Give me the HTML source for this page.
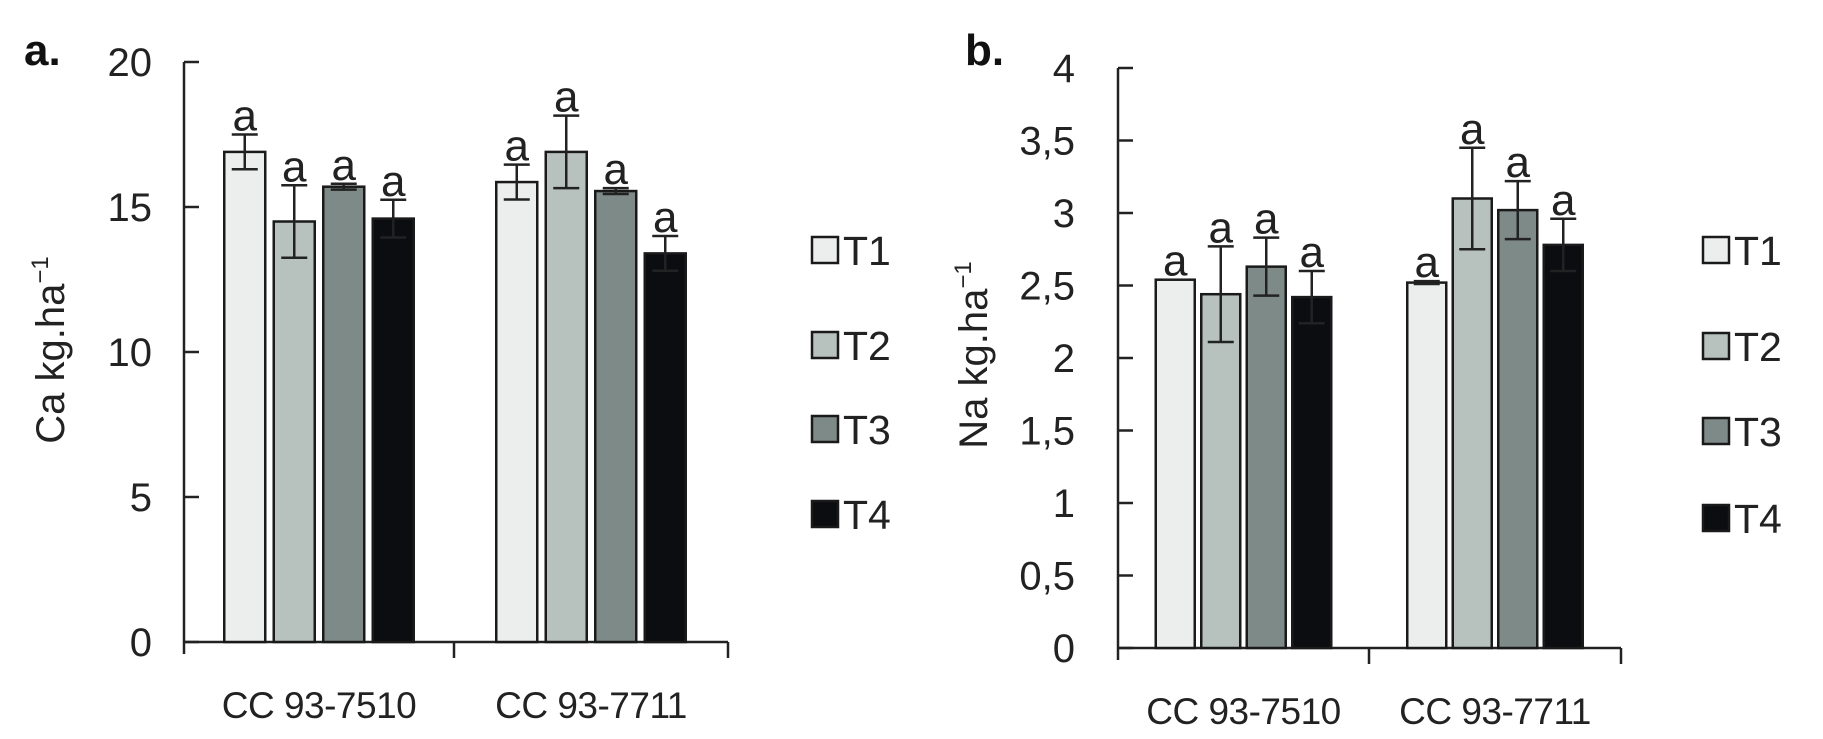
<!DOCTYPE html>
<html><head><meta charset="utf-8">
<style>
html,body{margin:0;padding:0;background:#fff;}
svg{display:block;font-family:"Liberation Sans",sans-serif;}
</style></head>
<body>
<svg id="fig" width="1823" height="739" viewBox="0 0 1823 739"></svg>
<script>
const categories = ["CC 93-7510", "CC 93-7711"];
const seriesNames = ["T1", "T2", "T3", "T4"];
const seriesColors = ["#eceeee", "#b7c2bf", "#7d8a87", "#0b0d10"];
// Chart a: Ca
const caValues = [[16.9, 15.86], [14.5, 16.9], [15.7, 15.55], [14.6, 13.4]];
const caErrors = [[0.6, 0.6], [1.25, 1.25], [0.1, 0.1], [0.65, 0.6]];
const caTicks = [0, 5, 10, 15, 20];
const caTickLabels = ["0", "5", "10", "15", "20"];
// Chart b: Na
const naValues = [[2.54, 2.52], [2.44, 3.1], [2.63, 3.02], [2.42, 2.78]];
const naErrors = [[0.0, 0.01], [0.33, 0.35], [0.2, 0.2], [0.18, 0.18]];
const naTicks = [0, 0.5, 1, 1.5, 2, 2.5, 3, 3.5, 4];
const naTickLabels = ["0", "0,5", "1", "1,5", "2", "2,5", "3", "3,5", "4"];

const NS = "http://www.w3.org/2000/svg";
const svg = document.getElementById("fig");
function mk(tag, attrs, parent, text) {
  const e = document.createElementNS(NS, tag);
  for (const k in attrs) e.setAttribute(k, attrs[k]);
  if (text !== undefined) e.textContent = text;
  (parent || svg).appendChild(e);
  return e;
}

function drawChart(cfg) {
  const g = mk("g", {});
  
  
  const y = v => cfg.y0 - (v - 0) / cfg.max * (cfg.y0 - cfg.yTop);
  const ax = mk("line", {x1: cfg.ax, y1: y(cfg.max), x2: cfg.ax, y2: cfg.y0 + 12, stroke: "#222", "stroke-width": 2.5}, g);
  
  
  cfg.ticks.forEach((t, i) => {
    const tk = mk("line", {x1: cfg.ax, y1: y(t), x2: cfg.ax + 15, y2: y(t), stroke: "#222", "stroke-width": 2.5}, g);
    
    
    const tl = mk("text", {x: cfg.tickRight, y: y(t) + 14, "text-anchor": "end", "font-size": 40, fill: "#222"}, g, cfg.tickLabels[i]);
    
    
  });
  const xa = mk("line", {x1: cfg.ax, y1: cfg.y0, x2: cfg.xEnd, y2: cfg.y0, stroke: "#222", "stroke-width": 2.5}, g);
  
  
  [cfg.div, cfg.xEnd].forEach(xx => {
    const d = mk("line", {x1: xx, y1: cfg.y0, x2: xx, y2: cfg.y0 + 16, stroke: "#222", "stroke-width": 2.5}, g);
    
    
  });
  const bounds = [[cfg.ax, cfg.div], [cfg.div, cfg.xEnd]];
  categories.forEach((c, ci) => {
    const cx = (bounds[ci][0] + bounds[ci][1]) / 2;
    const t = mk("text", {x: cx, y: cfg.y0 + 76, "text-anchor": "middle", "font-size": 37, fill: "#222", "letter-spacing": "-0.5"}, g, c);
    
    
    const n = seriesNames.length;
    const total = n * cfg.pitch - (cfg.pitch - cfg.bw);
    seriesNames.forEach((s, si) => {
      const v = cfg.values[si][ci], e = cfg.errors[si][ci];
      const bx = cx - total / 2 + si * cfg.pitch;
      const r = mk("rect", {x: bx, y: y(v), width: cfg.bw, height: cfg.y0 - y(v), fill: seriesColors[si], stroke: "#1a1a1a", "stroke-width": 2.5}, g);
      
      
      const mx = bx + cfg.bw / 2;
      const eg = mk("g", {stroke: "#222", "stroke-width": 2.5}, g);
      
      
      mk("line", {x1: mx, y1: y(v + e), x2: mx, y2: y(v - e)}, eg);
      mk("line", {x1: mx - 13, y1: y(v + e), x2: mx + 13, y2: y(v + e)}, eg);
      mk("line", {x1: mx - 13, y1: y(v - e), x2: mx + 13, y2: y(v - e)}, eg);
      const lt = mk("text", {x: mx, y: y(v + e) - 4, "text-anchor": "middle", "font-size": 44, fill: "#222"}, g, "a");
      
      
    });
  });
  seriesNames.forEach((s, si) => {
    const ly = cfg.legY[si];
    const lg = mk("g", {}, g);
    
    
    mk("rect", {x: cfg.legX, y: ly - 13, width: 26, height: 26, fill: seriesColors[si], stroke: "#1a1a1a", "stroke-width": 2.5}, lg);
    mk("text", {x: cfg.legX + 31, y: ly + 15, "font-size": 41, fill: "#222"}, lg, s);
  });
  const yt = mk("text", {transform: `translate(${cfg.ytX},${cfg.ytY}) rotate(-90)`, "text-anchor": "middle", "font-size": 40, fill: "#222"}, g);
  
  
  yt.appendChild(document.createTextNode(cfg.ytitle + " kg.ha"));
  mk("tspan", {dy: -16, "font-size": 24}, yt, "−1");
  const pl = mk("text", {x: cfg.plX, y: 65, "font-size": 44, "font-weight": "bold", fill: "#111"}, g, cfg.panel);
  
  
}

drawChart({name: "chart-a-ca", values: caValues, errors: caErrors, ticks: caTicks, tickLabels: caTickLabels,
  max: 20, y0: 642, yTop: 62, ax: 184, div: 454, xEnd: 728, bw: 41, pitch: 49.5, tickRight: 152,
  legX: 812, legY: [250, 345, 429, 514], ytitle: "Ca", ytX: 64, ytY: 350, panel: "a.", plX: 24});
drawChart({name: "chart-b-na", values: naValues, errors: naErrors, ticks: naTicks, tickLabels: naTickLabels,
  max: 4, y0: 648, yTop: 68, ax: 1118, div: 1369, xEnd: 1621, bw: 39, pitch: 45.5, tickRight: 1075,
  legX: 1703, legY: [250, 346, 431, 518], ytitle: "Na", ytX: 987, ytY: 355, panel: "b.", plX: 965});
</script>
</body></html>
